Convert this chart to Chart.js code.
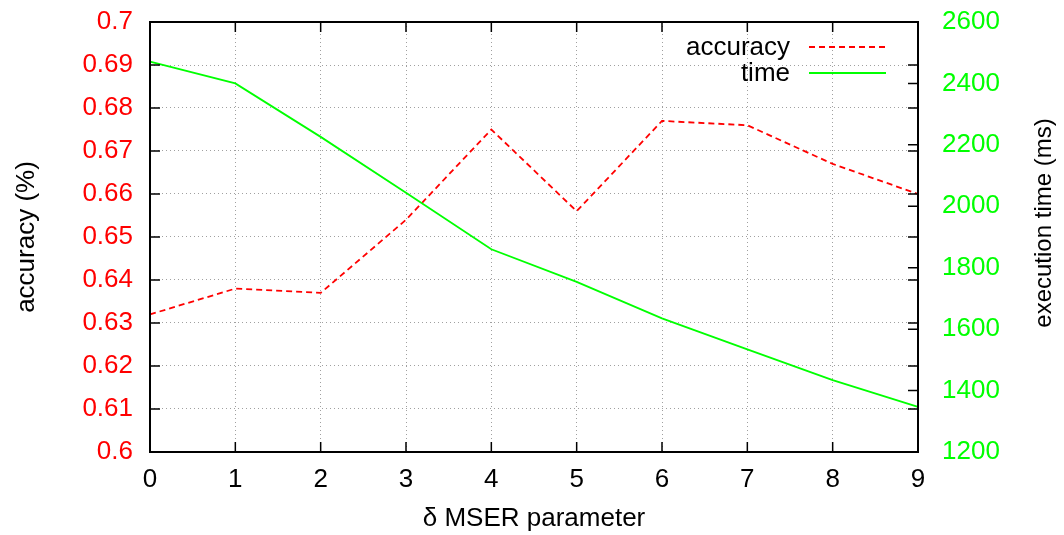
<!DOCTYPE html>
<html>
<head>
<meta charset="utf-8">
<script src="https://cdn.jsdelivr.net/npm/chart.js@4.4.0/dist/chart.umd.min.js"></script>
<style>
  html, body { margin: 0; padding: 0; background: #fff; }
</style>
</head>
<body>
<canvas id="grafico" width="1064" height="535"></canvas>
<script>
// ==============================
// DATOS
// ==============================
const deltas = ['0', '1', '2', '3', '4', '5', '6', '7', '8', '9'];
const accuracy = [0.632, 0.638, 0.637, 0.654, 0.675, 0.656, 0.677, 0.676, 0.667, 0.660];
const execTime = [2471, 2400, 2226, 2044, 1860, 1754, 1635, 1534, 1434, 1347];
const accuracyTicks = [0.6, 0.61, 0.62, 0.63, 0.64, 0.65, 0.66, 0.67, 0.68, 0.69, 0.7];
const timeTicks = [1200, 1400, 1600, 1800, 2000, 2200, 2400, 2600];

const ROJO = '#ff0000';
const VERDE = '#00ff00';
const FUENTE = '"Liberation Sans", Arial, sans-serif';

Chart.defaults.font.family = FUENTE;
Chart.defaults.font.size = 26;
Chart.defaults.color = '#000';

// ==============================
// MARCO + TICKS HACIA DENTRO (estilo gnuplot)
// ==============================
const marcoPlugin = {
    id: 'marco',
    afterDraw(chart) {
        const { ctx, chartArea: a, scales } = chart;
        const len = 10;
        ctx.save();
        ctx.setLineDash([]);
        ctx.strokeStyle = '#000';
        ctx.lineWidth = 1.5;
        ctx.beginPath();
        scales.x.ticks.forEach((t, i) => {
            const px = scales.x.getPixelForTick(i);
            ctx.moveTo(px, a.bottom); ctx.lineTo(px, a.bottom - len);
            ctx.moveTo(px, a.top); ctx.lineTo(px, a.top + len);
        });
        scales.y.ticks.forEach((t, i) => {
            const py = scales.y.getPixelForTick(i);
            ctx.moveTo(a.left, py); ctx.lineTo(a.left + len, py);
            ctx.moveTo(a.right, py); ctx.lineTo(a.right - len, py);
        });
        scales.y1.ticks.forEach((t, i) => {
            const py = scales.y1.getPixelForTick(i);
            ctx.moveTo(a.right, py); ctx.lineTo(a.right - len, py);
        });
        ctx.stroke();
        ctx.lineWidth = 2;
        ctx.strokeRect(a.left, a.top, a.right - a.left, a.bottom - a.top);

        // título del eje derecho, leído de abajo hacia arriba
        ctx.save();
        ctx.translate(1044, 223);
        ctx.rotate(-Math.PI / 2);
        ctx.font = '24px ' + FUENTE;
        ctx.fillStyle = '#000';
        ctx.textAlign = 'center';
        ctx.textBaseline = 'middle';
        ctx.fillText('execution time (ms)', 0, 0);
        ctx.restore();

        ctx.restore();
    }
};

// ==============================
// LEYENDA (texto a la izquierda, muestra a la derecha)
// ==============================
const leyendaPlugin = {
    id: 'leyendaGnuplot',
    afterDraw(chart) {
        const { ctx, chartArea: a } = chart;
        ctx.save();
        ctx.font = '26px ' + FUENTE;
        ctx.textAlign = 'right';
        ctx.textBaseline = 'middle';
        chart.data.datasets.forEach((ds, i) => {
            const y = a.top + 25 + i * 26;
            ctx.fillStyle = '#000';
            ctx.fillText(ds.label, a.right - 128, y + 1);
            ctx.strokeStyle = ds.borderColor;
            ctx.lineWidth = ds.borderWidth;
            ctx.setLineDash(ds.borderDash || []);
            ctx.beginPath();
            ctx.moveTo(a.right - 109, y);
            ctx.lineTo(a.right - 32, y);
            ctx.stroke();
        });
        ctx.restore();
    }
};

const ctx = document.getElementById('grafico').getContext('2d');

new Chart(ctx, {
    type: 'line',
    data: {
        labels: deltas,
        datasets: [{
            label: 'accuracy',
            data: accuracy,
            yAxisID: 'y',
            borderColor: ROJO,
            borderWidth: 1.8,
            borderDash: [6, 4],
            pointRadius: 0,
            tension: 0,
            order: 2
        }, {
            label: 'time',
            data: execTime,
            yAxisID: 'y1',
            borderColor: VERDE,
            borderWidth: 1.8,
            pointRadius: 0,
            tension: 0,
            order: 1
        }]
    },
    options: {
        responsive: false,
        animation: false,
        layout: { padding: { top: 22, left: 0, right: 0, bottom: 0 } },
        plugins: {
            legend: { display: false },
            tooltip: { enabled: false }
        },
        scales: {
            x: {
                offset: false,
                grid: { color: '#a0a0a0', drawTicks: false },
                border: { display: false, dash: [1, 3] },
                ticks: { color: '#000', padding: 12, maxRotation: 0 },
                title: {
                    display: true,
                    text: 'δ MSER parameter',
                    color: '#000',
                    padding: { top: 0, bottom: 1 }
                },
                afterFit(scale) {
                    scale.height = 83;
                    scale.paddingLeft = 0;
                    scale.paddingRight = 0;
                }
            },
            y: {
                position: 'left',
                min: 0.6,
                max: 0.7,
                afterBuildTicks(scale) {
                    scale.ticks = accuracyTicks.map(v => ({ value: v }));
                },
                grid: { color: '#a0a0a0', drawTicks: false },
                border: { display: false, dash: [1, 3] },
                ticks: {
                    color: ROJO,
                    padding: 17,
                    callback: v => String(+v.toFixed(2))
                },
                title: {
                    display: true,
                    text: 'accuracy (%)',
                    color: '#000',
                    padding: { top: 11, bottom: 0 }
                },
                afterFit(scale) {
                    scale.width = 150;
                    scale.paddingTop = 0;
                    scale.paddingBottom = 0;
                }
            },
            y1: {
                position: 'right',
                min: 1200,
                max: 2600,
                afterBuildTicks(scale) {
                    scale.ticks = timeTicks.map(v => ({ value: v }));
                },
                grid: { drawOnChartArea: false, drawTicks: false },
                border: { display: false },
                ticks: { color: VERDE, padding: 24, callback: v => String(v) },
                title: { display: false },
                afterFit(scale) {
                    scale.width = 146;
                    scale.paddingTop = 0;
                    scale.paddingBottom = 0;
                }
            }
        }
    },
    plugins: [marcoPlugin, leyendaPlugin]
});
</script>
</body>
</html>
